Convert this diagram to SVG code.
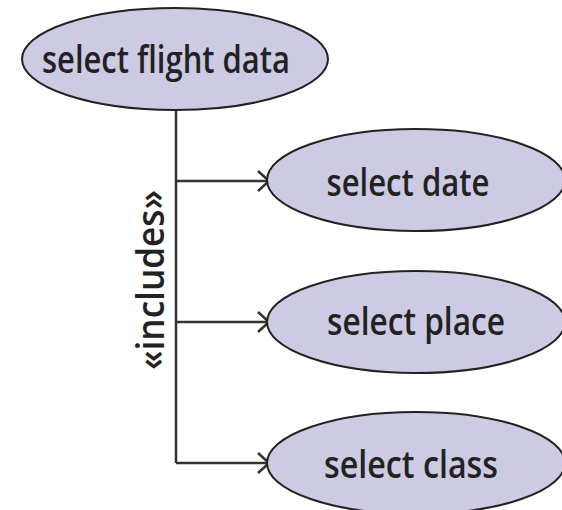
<svg xmlns="http://www.w3.org/2000/svg" width="562" height="510" viewBox="0 0 562 510">
<style>
.uc{fill:#cccbe3;stroke:#222;stroke-width:2}
.t{font-family:"Open Sans","DejaVu Sans",sans-serif;font-size:37px;font-weight:600;fill:#222}
.c{fill:none;stroke:#333;stroke-width:2.5}
</style>
<rect width="562" height="510" fill="#fff"/>
<g id="connectors">
<path class="c" d="M176 110 V463 M176 181 H268 M176 322 H268 M176 463 H268"/>
<path class="c" d="M258 171 L269 181 L258 191 M258 312 L269 322 L258 332 M258 453 L269 463 L258 473"/>
<text class="t" transform="translate(164 280) rotate(-90)" text-anchor="middle" textLength="180" lengthAdjust="spacingAndGlyphs">«includes»</text>
</g>
<g id="select-flight-data">
<ellipse class="uc" cx="175" cy="59" rx="153" ry="51"/>
<text class="t" x="166" y="73" text-anchor="middle" textLength="248" lengthAdjust="spacingAndGlyphs">select flight data</text>
</g>
<g id="select-date">
<ellipse class="uc" cx="416" cy="180" rx="149" ry="51"/>
<text class="t" x="408" y="196" text-anchor="middle" textLength="163" lengthAdjust="spacingAndGlyphs">select date</text>
</g>
<g id="select-place">
<ellipse class="uc" cx="416" cy="322" rx="149" ry="51"/>
<text class="t" x="416" y="335" text-anchor="middle" textLength="178" lengthAdjust="spacingAndGlyphs">select place</text>
</g>
<g id="select-class">
<ellipse class="uc" cx="416" cy="463" rx="149" ry="51"/>
<text class="t" x="411" y="478" text-anchor="middle" textLength="174" lengthAdjust="spacingAndGlyphs">select class</text>
</g>
</svg>
